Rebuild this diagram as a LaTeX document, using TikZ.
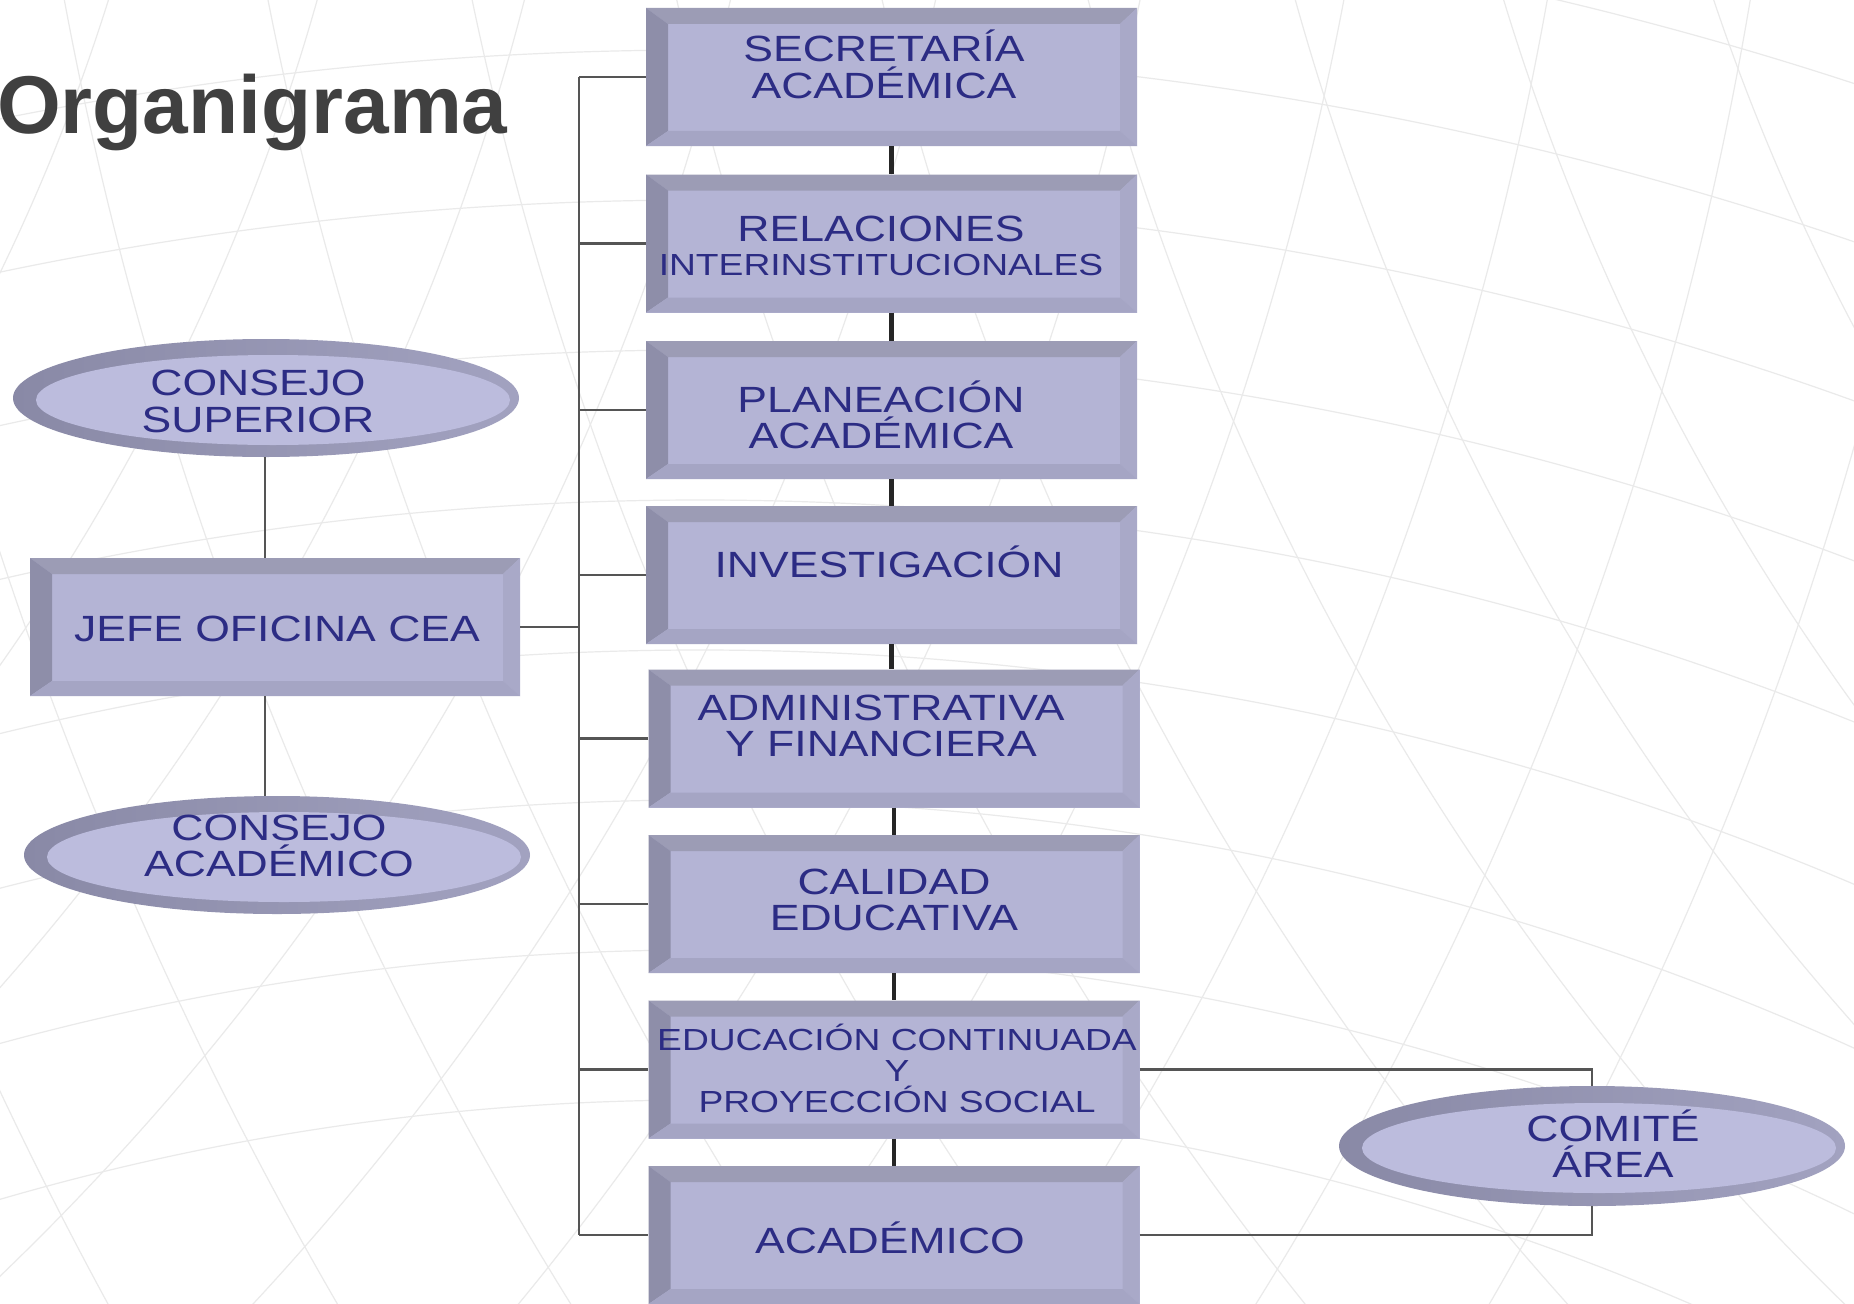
\documentclass[tikz,border=0pt]{standalone}
\usepackage{fontspec}
\setmainfont{Liberation Sans}
\newfontfamily\lblfont[FakeStretch=1.22]{Liberation Sans}
\usetikzlibrary{shapes.geometric}
\definecolor{faceC}{HTML}{B4B4D5}
\definecolor{topC}{HTML}{9C9CB5}
\definecolor{leftC}{HTML}{8E8EA9}
\definecolor{rightC}{HTML}{A9A9C8}
\definecolor{botC}{HTML}{A5A5C4}
\definecolor{rimL}{HTML}{8989A6}
\definecolor{rimR}{HTML}{A2A2C0}
\definecolor{faceE}{HTML}{BCBCDD}
\definecolor{txtC}{HTML}{2C2C84}
\definecolor{titleC}{HTML}{404040}
\definecolor{gridC}{HTML}{EAEAEA}
\definecolor{connC}{HTML}{555555}
\newcommand\kstr{\rule[-10pt]{0pt}{36.1pt}}
\newcommand\kstrs{\rule[-9pt]{0pt}{30.8pt}}
\tikzset{
  bevelbox/.style={rectangle, inner sep=0pt, minimum width=491pt, minimum height=138pt, fill=faceC,
    path picture={
      \fill[topC] (path picture bounding box.north west) -- (path picture bounding box.north east)
        -- ([shift={(-17pt,-16pt)}]path picture bounding box.north east)
        -- ([shift={(22pt,-16pt)}]path picture bounding box.north west) -- cycle;
      \fill[leftC] (path picture bounding box.north west) -- ([shift={(22pt,-16pt)}]path picture bounding box.north west)
        -- ([shift={(22pt,15pt)}]path picture bounding box.south west)
        -- (path picture bounding box.south west) -- cycle;
      \fill[rightC] (path picture bounding box.north east) -- ([shift={(-17pt,-16pt)}]path picture bounding box.north east)
        -- ([shift={(-17pt,15pt)}]path picture bounding box.south east)
        -- (path picture bounding box.south east) -- cycle;
      \fill[botC] (path picture bounding box.south west) -- ([shift={(22pt,15pt)}]path picture bounding box.south west)
        -- ([shift={(-17pt,15pt)}]path picture bounding box.south east)
        -- (path picture bounding box.south east) -- cycle;
    }},
  ovalnode/.style={ellipse, inner sep=0pt, minimum width=506pt, minimum height=118pt, left color=rimL, right color=rimR,
    path picture={\fill[faceE] ([shift={(7pt,-2pt)}]path picture bounding box.center) ellipse [x radius=237pt, y radius=45pt];}},
  lbl/.style={text=txtC, align=center, inner sep=0pt, font={\lblfont\fontsize{36.5}{36.5}\selectfont\lineskiplimit=-100pt}},
  lbls/.style={text=txtC, align=center, inner sep=0pt, font={\lblfont\fontsize{30.5}{31}\selectfont\lineskiplimit=-100pt}},
  conn/.style={draw=connC, line width=2.5pt},
  link/.style={draw=black!85, line width=4.5pt},
  gridline/.style={draw=gridC, line width=1.2pt}
}
\begin{document}
\begin{tikzpicture}[x=1pt, y=-1pt]
\useasboundingbox (0,0) rectangle (1854,1303);
\fill[white] (0,0) rectangle (1854,1303);
\begin{scope}
  \clip (0,0) rectangle (1854,1303);
  \foreach \r in {2500,2650,...,3700} \draw[gridline] (700,3600) circle [radius=\r pt];
  \foreach \r in {2000,2200,...,3800} \draw[gridline] (-1800,-600) circle [radius=\r pt];
  \foreach \r in {2200,2400,...,4200} \draw[gridline] (3800,-700) circle [radius=\r pt];
\end{scope}

% title
\node[anchor=base west, inner sep=0pt, text=titleC, font={\fontsize{82}{90}\selectfont\bfseries}] (title) at (-3,134) {Organigrama};

% boxes
\node[bevelbox] (b1) at (891.5,77) {};
\node[bevelbox] (b2) at (891.5,243.5) {};
\node[bevelbox] (b3) at (891.5,410) {};
\node[bevelbox] (b4) at (891.5,575) {};
\node[bevelbox] (b5) at (894,738.5) {};
\node[bevelbox] (b6) at (894,904) {};
\node[bevelbox] (b7) at (894,1069.5) {};
\node[bevelbox] (b8) at (894,1235) {};
\node[bevelbox, minimum width=490pt] (jefe) at (275,627) {};
\node[ovalnode] (cs) at (266,398) {};
\node[ovalnode] (ca) at (277,855) {};
\node[ovalnode, minimum height=120pt] (cm) at (1592,1146) {};

% connectors
\coordinate (busx) at (579,0);
\coordinate (vx) at (265,0);
\draw[conn] (b1.west -| busx) -- (b8.west -| busx);
\foreach \b in {b1,b2,b3,b4,b5,b6,b7,b8} \draw[conn] (\b.west -| busx) -- (\b.west);
\draw[conn] (jefe.east) -- (jefe.east -| busx);
\draw[conn] (cs.south -| vx) -- (jefe.north -| vx);
\draw[conn] (jefe.south -| vx) -- (ca.north -| vx);
\draw[conn] (b7.east) -- (b7.east -| cm.north) -- (cm.north);
\draw[conn] (b8.east) -- (b8.east -| cm.south) -- (cm.south);
\draw[link] (b1.south) -- (b2.north);
\draw[link] (b2.south) -- (b3.north);
\draw[link] (b3.south) -- (b4.north);
\draw[link] (b4.south) -- (b4.south |- b5.north);
\draw[link] (b5.south) -- (b6.north);
\draw[link] (b6.south) -- (b7.north);
\draw[link] (b7.south) -- (b8.north);

% labels
\node[lbl] (t1) at (884,69) {\kstr SECRETARÍA\\\kstr ACADÉMICA};
\node[lbl] (t2) at (881,250) {\kstr RELACIONES\\[-3pt]{\fontsize{30.5}{31}\selectfont\kstrs INTERINSTITUCIONALES}};
\node[lbl] (t3) at (881,419.5) {\kstr PLANEACIÓN\\\kstr ACADÉMICA};
\node[lbl] (t4) at (889,567) {\kstr INVESTIGACIÓN};
\node[lbl] (t5) at (881,730.5) {\kstr ADMINISTRATIVA\\\kstr Y FINANCIERA};
\node[lbl] (t6) at (894,904.5) {\kstr CALIDAD\\\kstr EDUCATIVA};
\node[lbls] (t7) at (897,1073) {\kstrs EDUCACIÓN CONTINUADA\\\kstrs Y\\\kstrs PROYECCIÓN SOCIAL};
\node[lbl] (t8) at (890,1243) {\kstr ACADÉMICO};
\node[lbl] (tj) at (277,633) {\kstr JEFE OFICINA CEA};
\node[lbl] (tcs) at (258,406) {\kstr CONSEJO\\\kstr SUPERIOR};
\node[lbl] (tca) at (279,850.5) {\kstr CONSEJO\\\kstr ACADÉMICO};
\node[lbl] (tcm) at (1613,1148.5) {\kstr COMITÉ\\\kstr ÁREA};
\end{tikzpicture}
\end{document}
